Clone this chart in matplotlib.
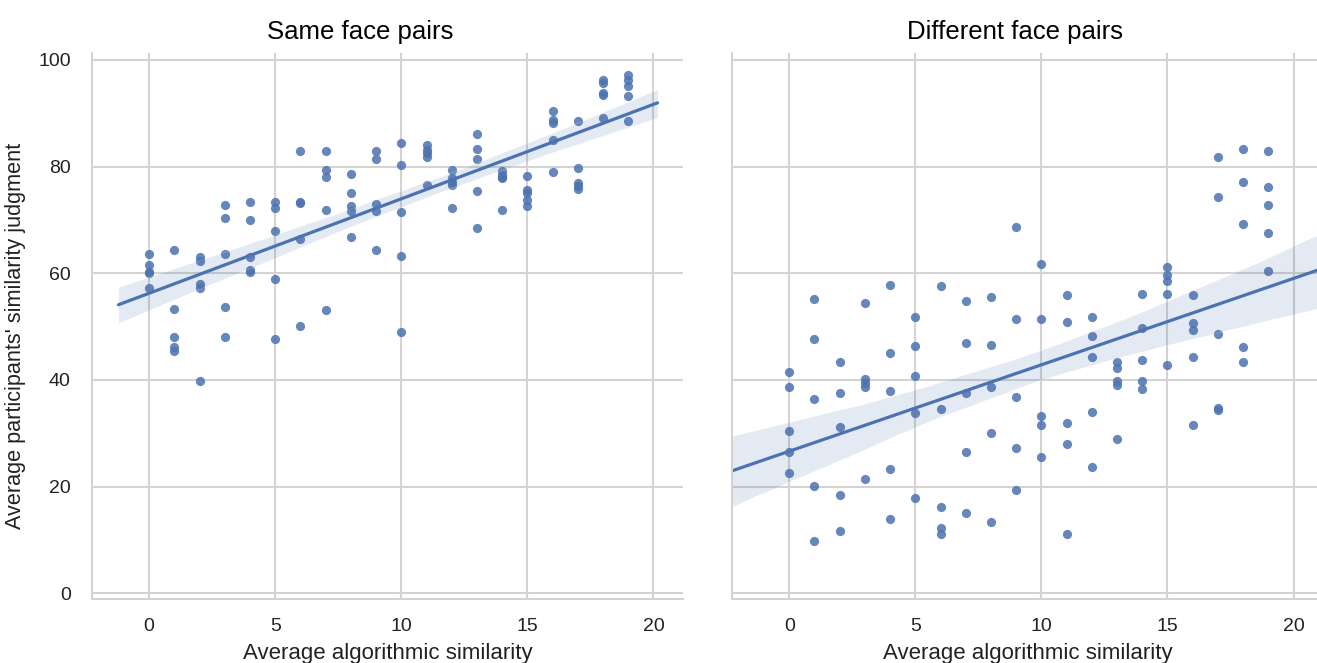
import numpy as np
import matplotlib
matplotlib.use("Agg")
import matplotlib.pyplot as plt
import seaborn as sns

# ---------------- data ----------------
algo_sim = list(range(20))  # average algorithmic similarity (x values, 5 pairs each)

same_pairs = [
    [63.7, 61.6, 60.3, 60.0, 57.2],   # 0
    [64.3, 53.3, 48.0, 46.2, 45.5],   # 1
    [63.0, 62.4, 58.0, 57.3, 39.8],   # 2
    [72.9, 70.4, 63.7, 53.7, 48.0],   # 3
    [73.3, 70.0, 63.0, 60.7, 60.2],   # 4
    [73.3, 72.2, 67.9, 59.0, 47.6],   # 5
    [82.9, 73.3, 73.2, 66.4, 50.1],   # 6
    [82.9, 79.4, 78.1, 71.8, 53.1],   # 7
    [78.6, 75.0, 72.6, 71.6, 66.9],   # 8
    [82.9, 81.4, 73.0, 71.6, 64.3],   # 9
    [84.4, 80.4, 71.5, 63.2, 49.0],   # 10
    [84.1, 83.2, 82.5, 81.9, 76.5],   # 11
    [79.4, 77.8, 77.2, 76.5, 72.2],   # 12
    [86.1, 83.3, 81.5, 75.4, 68.5],   # 13
    [79.1, 78.5, 78.0, 77.8, 71.9],   # 14
    [78.3, 75.7, 75.1, 73.7, 72.6],   # 15
    [90.5, 88.8, 88.1, 85.0, 79.0],   # 16
    [88.6, 79.7, 77.0, 76.3, 75.8],   # 17
    [96.2, 95.7, 93.8, 93.4, 89.1],   # 18
    [97.2, 96.2, 95.2, 93.3, 88.6],   # 19
]

different_pairs = [
    [41.5, 38.7, 30.4, 26.5, 22.6],   # 0
    [55.1, 47.6, 36.5, 20.1, 9.8],    # 1
    [43.3, 37.6, 31.2, 18.4, 11.6],   # 2
    [54.4, 40.2, 39.4, 38.7, 21.5],   # 3
    [57.9, 45.1, 38.0, 23.4, 14.0],   # 4
    [51.9, 46.4, 40.7, 33.9, 17.9],   # 5
    [57.6, 34.5, 16.2, 12.3, 11.2],   # 6
    [54.8, 46.9, 37.6, 26.5, 15.1],   # 7
    [55.5, 46.5, 38.7, 30.1, 13.4],   # 8
    [68.6, 51.5, 36.9, 27.3, 19.4],   # 9
    [61.8, 51.5, 33.3, 31.5, 25.5],   # 10
    [55.9, 50.8, 32.0, 28.0, 11.2],   # 11
    [51.9, 48.2, 44.4, 34.0, 23.7],   # 12
    [43.4, 42.3, 39.8, 39.0, 29.0],   # 13
    [56.2, 49.8, 43.7, 39.8, 38.3],   # 14
    [61.2, 59.6, 58.6, 56.2, 42.9],   # 15
    [55.9, 50.7, 49.3, 44.4, 31.5],   # 16
    [81.9, 74.3, 48.7, 34.8, 34.3],   # 17
    [83.3, 77.2, 69.3, 46.1, 43.3],   # 18
    [82.9, 76.1, 72.9, 67.5, 60.4],   # 19
]

panel_titles = ["Same face pairs", "Different face pairs"]
x_label = "Average algorithmic similarity"
y_label = "Average participants' similarity judgment"
x_ticks = [0, 5, 10, 15, 20]
y_ticks = [0, 20, 40, 60, 80, 100]

# ---------------- style ----------------
sns.set_theme(style="whitegrid")
plt.rcParams['font.family'] = ['Liberation Sans', 'DejaVu Sans']

color = "#4C72B0"
grid_c = "#d3d3d3"
text_c = "#222222"

fig = plt.figure(figsize=(13.17, 6.63), dpi=100)
ax1 = fig.add_axes([0.0696, 0.0961, 0.449, 0.8239])
ax2 = fig.add_axes([0.5556, 0.0961, 0.449, 0.8239], sharey=ax1)


def flat(groups):
    xs, ys = [], []
    for xv, g in zip(algo_sim, groups):
        for v in g:
            xs.append(xv)
            ys.append(v)
    return np.array(xs, float), np.array(ys, float)


final_xlim = (-2.28, 21.17)
line_xlims = [(-1.22, 20.16), final_xlim]
title_x = [0.4537, 0.479]

for ax, groups, title, lx, tx in zip([ax1, ax2], [same_pairs, different_pairs],
                                     panel_titles, line_xlims, title_x):
    xs, ys = flat(groups)
    ax.set_xlim(*lx)
    sns.regplot(x=xs, y=ys, ax=ax, truncate=False, color=color, seed=3,
                scatter_kws=dict(s=44, alpha=0.85, linewidths=0),
                line_kws=dict(lw=2.3))
    ax.set_xlim(*final_xlim)
    ax.set_ylim(-1.12, 101.3)
    ax.set_xticks(x_ticks)
    ax.set_yticks(y_ticks)
    ax.grid(True, color=grid_c, lw=1.5)
    for side in ["top", "right"]:
        ax.spines[side].set_visible(False)
    for side in ["left", "bottom"]:
        ax.spines[side].set_color(grid_c)
        ax.spines[side].set_linewidth(1.5)
    ax.tick_params(axis="both", length=0, labelsize=14, colors=text_c)
    ax.tick_params(axis="x", pad=13.5)
    ax.tick_params(axis="y", pad=15)
    ax.set_xlabel(x_label, fontsize=16, color=text_c, labelpad=6)
    t = ax.set_title(title, fontsize=18.5, color="black", pad=10)
    t.set_x(tx)

ax1.set_ylabel(y_label, fontsize=15.6, color=text_c, labelpad=9, y=0.482)
ax2.set_ylabel("")
plt.setp(ax2.get_yticklabels(), visible=False)

fig.savefig("out.png", dpi=100)
